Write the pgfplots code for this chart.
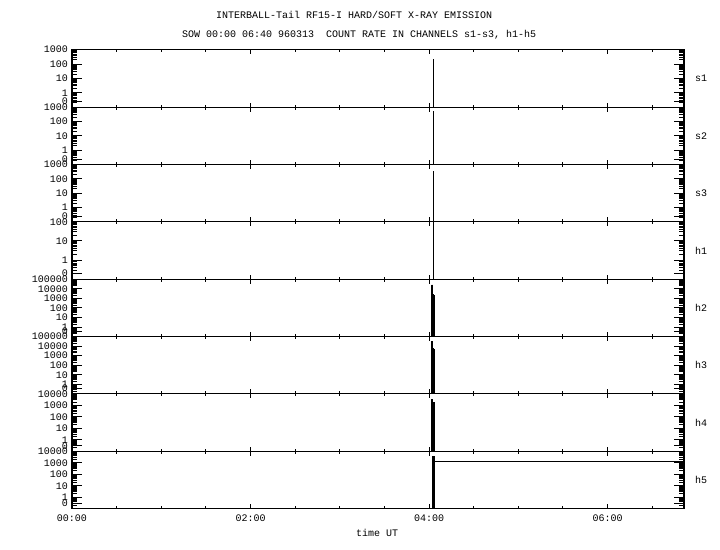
\documentclass[border=0pt]{standalone}
\usepackage{fontspec}
\setmainfont{Liberation Mono}
\usepackage{pgfplots}
\pgfplotsset{compat=1.18}
\pgfplotsset{
 every axis/.append style={
  scale only axis, width=612bp, height=57.375bp,
  xmin=0, xmax=6.857, ymin=0.1,
  anchor=south west, clip=true,
  axis line style={line width=1.1bp},
  tick style={black, line width=0.9bp},
  tick align=inside,
  xtick={0,2,4,6}, minor xtick={0.5,1,1.5,2.5,3,3.5,4.5,5,5.5,6.5},
  major tick length=10bp, minor tick length=5bp,
  xtick style={/pgfplots/major tick length=4.5bp, /pgfplots/minor tick length=2.5bp},
  yticklabel style={inner sep=0pt, xshift=-4bp, font=\fontsize{10bp}{12bp}\selectfont},
  xticklabel style={inner sep=0pt, yshift=-6bp, font=\fontsize{10bp}{12bp}\selectfont},
 },
}
\begin{document}
\fontsize{10bp}{12bp}\selectfont
\begin{tikzpicture}[x=1bp,y=1bp]
\useasboundingbox (0,0) rectangle (720,550);
% s1
\begin{axis}[ymode=log, at={(72bp,442.925bp)}, xticklabels={}, ymax=1000, ytick={0.24,1,10,100,1000}, yticklabels={0,1,10,100,1000},
 minor ytick={0.2,0.3,0.4,0.5,0.6,0.7,0.8,0.9,2,3,4,5,6,7,8,9,20,30,40,50,60,70,80,90,200,300,400,500,600,700,800,900}]
\addplot[black, line width=1bp] coordinates {(4.048,0.1) (4.048,224)};
\end{axis}
% s2
\begin{axis}[ymode=log, at={(72bp,385.55bp)}, xticklabels={}, ymax=1000, ytick={0.24,1,10,100,1000}, yticklabels={0,1,10,100,1000},
 minor ytick={0.2,0.3,0.4,0.5,0.6,0.7,0.8,0.9,2,3,4,5,6,7,8,9,20,30,40,50,60,70,80,90,200,300,400,500,600,700,800,900}]
\addplot[black, line width=1bp] coordinates {(4.048,0.1) (4.048,550)};
\end{axis}
% s3
\begin{axis}[ymode=log, at={(72bp,328.175bp)}, xticklabels={}, ymax=1000, ytick={0.24,1,10,100,1000}, yticklabels={0,1,10,100,1000},
 minor ytick={0.2,0.3,0.4,0.5,0.6,0.7,0.8,0.9,2,3,4,5,6,7,8,9,20,30,40,50,60,70,80,90,200,300,400,500,600,700,800,900}]
\addplot[black, line width=1bp] coordinates {(4.048,0.1) (4.048,363)};
\end{axis}
% h1
\begin{axis}[ymode=log, at={(72bp,270.8bp)}, xticklabels={}, ymax=100, ytick={0.2,1,10,100}, yticklabels={0,1,10,100},
 minor ytick={0.2,0.3,0.4,0.5,0.6,0.7,0.8,0.9,2,3,4,5,6,7,8,9,20,30,40,50,60,70,80,90}]
\addplot[black, line width=1bp] coordinates {(4.048,0.1) (4.048,300)};
\end{axis}
% h2
\begin{axis}[ymode=log, at={(72bp,213.425bp)}, xticklabels={}, ymax=100000, ytick={0.37,1,10,100,1000,10000,100000}, yticklabels={0,1,10,100,1000,10000,100000},
 minor ytick={0.2,0.3,0.4,0.5,0.6,0.7,0.8,0.9,2,3,4,5,6,7,8,9,20,30,40,50,60,70,80,90,200,300,400,500,600,700,800,900,2000,3000,4000,5000,6000,7000,8000,9000,20000,30000,40000,50000,60000,70000,80000,90000}]
\addplot[black, fill=black, line width=0.6bp] coordinates {(4.030,0.1) (4.030,25000) (4.040,25000) (4.040,2800) (4.050,2800) (4.050,2000) (4.060,2000) (4.060,0.1)};
\end{axis}
% h3
\begin{axis}[ymode=log, at={(72bp,156.05bp)}, xticklabels={}, ymax=100000, ytick={0.37,1,10,100,1000,10000,100000}, yticklabels={0,1,10,100,1000,10000,100000},
 minor ytick={0.2,0.3,0.4,0.5,0.6,0.7,0.8,0.9,2,3,4,5,6,7,8,9,20,30,40,50,60,70,80,90,200,300,400,500,600,700,800,900,2000,3000,4000,5000,6000,7000,8000,9000,20000,30000,40000,50000,60000,70000,80000,90000}]
\addplot[black, fill=black, line width=0.6bp] coordinates {(4.030,0.1) (4.030,30200) (4.040,30200) (4.040,5600) (4.050,5600) (4.050,4470) (4.060,4470) (4.060,0.1)};
\end{axis}
% h4
\begin{axis}[ymode=log, at={(72bp,98.675bp)}, xticklabels={}, ymax=10000, ytick={0.3,1,10,100,1000,10000}, yticklabels={0,1,10,100,1000,10000},
 minor ytick={0.2,0.3,0.4,0.5,0.6,0.7,0.8,0.9,2,3,4,5,6,7,8,9,20,30,40,50,60,70,80,90,200,300,400,500,600,700,800,900,2000,3000,4000,5000,6000,7000,8000,9000}]
\addplot[black, fill=black, line width=0.6bp] coordinates {(4.030,0.1) (4.030,3300) (4.040,3300) (4.040,1780) (4.058,1780) (4.058,0.1)};
\end{axis}
% h5
\begin{axis}[ymode=log, at={(72bp,41.3bp)}, xticklabels={00:00,02:00,04:00,06:00}, ymax=10000, ytick={0.3,1,10,100,1000,10000}, yticklabels={0,1,10,100,1000,10000},
 minor ytick={0.2,0.3,0.4,0.5,0.6,0.7,0.8,0.9,2,3,4,5,6,7,8,9,20,30,40,50,60,70,80,90,200,300,400,500,600,700,800,900,2000,3000,4000,5000,6000,7000,8000,9000}]
\addplot[black, fill=black, line width=0.6bp] coordinates {(4.036,0.1) (4.036,3400) (4.063,3400) (4.063,0.1)};
\addplot[black, line width=1bp] coordinates {(4.063,1350) (6.857,1350)};
\end{axis}
% right labels
\node[anchor=west, inner sep=0pt] at (695,471.6) {s1};
\node[anchor=west, inner sep=0pt] at (695,414.2) {s2};
\node[anchor=west, inner sep=0pt] at (695,356.9) {s3};
\node[anchor=west, inner sep=0pt] at (695,299.5) {h1};
\node[anchor=west, inner sep=0pt] at (695,242.1) {h2};
\node[anchor=west, inner sep=0pt] at (695,184.7) {h3};
\node[anchor=west, inner sep=0pt] at (695,127.4) {h4};
\node[anchor=west, inner sep=0pt] at (695,70.0) {h5};
% titles
\node[anchor=base west, inner sep=0pt] at (216,531) {INTERBALL-Tail RF15-I HARD/SOFT X-RAY EMISSION};
\node[anchor=base west, inner sep=0pt] at (182,512.7) {SOW 00:00 06:40 960313~~COUNT RATE IN CHANNELS s1-s3, h1-h5};
\node[anchor=base, inner sep=0pt] at (377,13.5) {time UT};
\end{tikzpicture}
\end{document}
